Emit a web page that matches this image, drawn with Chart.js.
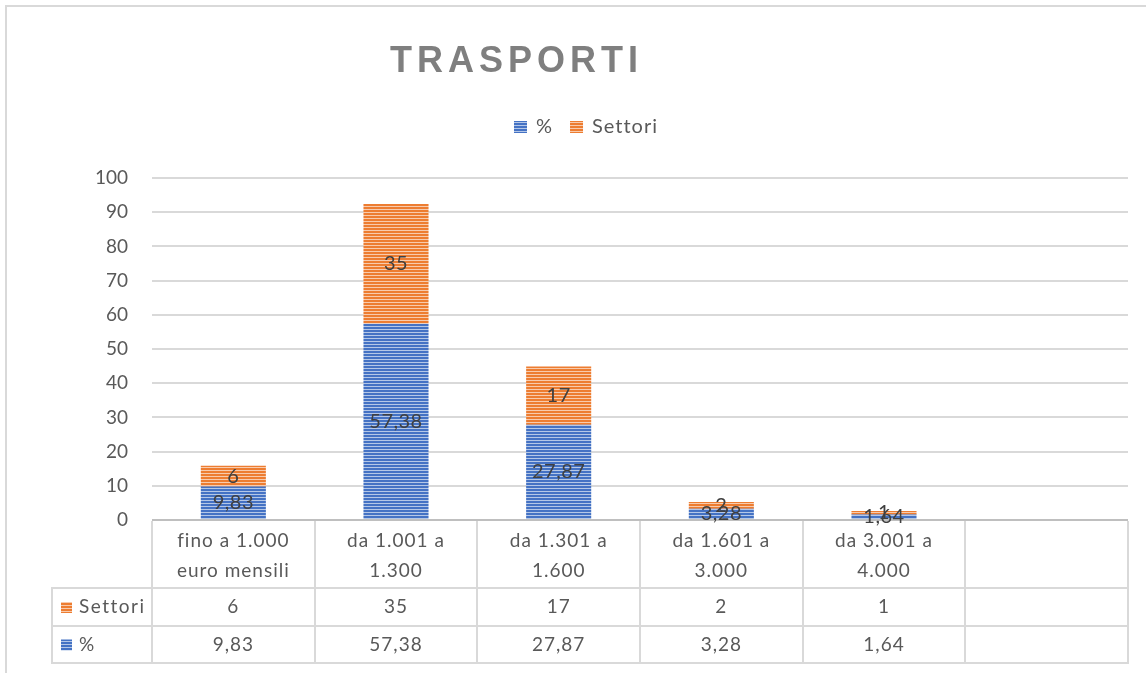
<!DOCTYPE html>
<html><head><meta charset="utf-8">
<script src="https://cdn.jsdelivr.net/npm/chart.js@4.4.1/dist/chart.umd.min.js"></script>
<style>html,body{margin:0;padding:0;background:#fff;overflow:hidden}</style>
</head><body>
<canvas id="c" width="1146" height="673"></canvas>
<script>
const chartTitle = 'TRASPORTI';
const categories = [['fino a 1.000','euro mensili'],['da 1.001 a','1.300'],['da 1.301 a','1.600'],['da 1.601 a','3.000'],['da 3.001 a','4.000'],['']];
const percentValues = [9.83, 57.38, 27.87, 3.28, 1.64, null];
const settoriValues = [6, 35, 17, 2, 1, null];
const seriesNames = ['%', 'Settori'];
const yMin = 0, yMax = 100, yStep = 10;

const FONT = 'Lato, "Liberation Sans", sans-serif';
const TEXT = '#595959';
const LABEL = '#404040';
const GRID = '#d9d9d9';

function stripes(base, light) {
  const p = document.createElement('canvas');
  p.width = 4; p.height = 3;
  const c = p.getContext('2d');
  c.fillStyle = base; c.fillRect(0, 0, 4, 2);
  c.fillStyle = light; c.fillRect(0, 2, 4, 1);
  return c.createPattern(p, 'repeat');
}
const ctx0 = document.getElementById('c').getContext('2d');
const bluePat = stripes('#4472c4', '#b4c7e7');
const orangePat = stripes('#ed7d31', '#f8cbad');

function fmt(v) { return v == null ? '' : String(v).replace('.', ','); }

function text(ctx, s, x, y, size, color, align, weight, spacing) {
  ctx.save();
  ctx.font = (weight || 'normal') + ' ' + size + 'px ' + FONT;
  ctx.fillStyle = color;
  ctx.textAlign = align || 'center';
  ctx.textBaseline = 'middle';
  if (spacing) ctx.letterSpacing = spacing + 'px';
  ctx.fillText(s, x, y);
  ctx.restore();
}
function line(ctx, x1, y1, x2, y2) { ctx.beginPath(); ctx.moveTo(x1, y1); ctx.lineTo(x2, y2); ctx.stroke(); }

const extras = {
  id: 'extras',
  afterDatasetsDraw(chart) {
    const ctx = chart.ctx;
    chart.data.datasets.forEach((ds, di) => {
      const meta = chart.getDatasetMeta(di);
      meta.data.forEach((el, i) => {
        const v = ds.data[i];
        if (v == null) return;
        text(ctx, fmt(v), el.x, (el.y + el.base) / 2, 20, LABEL, 'center', 'normal', 0.5);
      });
    });
  },
  afterDraw(chart) {
    const ctx = chart.ctx;
    // outer border
    ctx.save();
    ctx.strokeStyle = GRID; ctx.lineWidth = 2;
    ctx.strokeRect(6, 6, 1200, 800);
    ctx.restore();
    // title
    ctx.save();
    ctx.font = 'bold 36px "Liberation Sans", Arial, sans-serif';
    ctx.letterSpacing = '5px';
    ctx.fillStyle = '#7f7f7f';
    ctx.textAlign = 'left'; ctx.textBaseline = 'alphabetic';
    ctx.fillText(chartTitle, 390, 72);
    ctx.restore();
    // legend
    ctx.save();
    ctx.font = '20px ' + FONT;
    ctx.letterSpacing = '1px';
    const pats = [bluePat, orangePat];
    const boxW = 13, gapTxt = 9, gapItem = 17;
    const widths = seriesNames.map(s => ctx.measureText(s).width);
    let total = 0;
    widths.forEach((w, i) => { total += boxW + gapTxt + w + (i ? gapItem : 0); });
    let lx = 586 - total / 2;
    const ly = 127;
    seriesNames.forEach((s, i) => {
      ctx.fillStyle = pats[i];
      ctx.fillRect(lx, ly - 6, boxW, 12);
      text(ctx, s, lx + boxW + gapTxt, ly, 20, TEXT, 'left', 'normal', 1);
      lx += boxW + gapTxt + widths[i] + gapItem;
    });
    ctx.restore();
    // data table
    const xs = chart.scales.x, ys = chart.scales.y;
    const n = categories.length;
    const step = (xs.right - xs.left) / n;
    const top = ys.bottom;
    const y1 = top + 68, y2 = y1 + 38, y3 = y2 + 37;
    const legendLeft = 52;
    ctx.save();
    ctx.strokeStyle = GRID; ctx.lineWidth = 2;
    line(ctx, legendLeft, y1, xs.right, y1);
    line(ctx, legendLeft, y2, xs.right, y2);
    line(ctx, legendLeft, y3, xs.right, y3);
    for (let i = 0; i <= n; i++) {
      const x = Math.round(xs.left + i * step);
      line(ctx, x, top + 1, x, y3 + 1);
    }
    line(ctx, legendLeft, y1 - 1, legendLeft, y3 + 1);
    ctx.restore();
    categories.forEach((lab, i) => {
      const cx = xs.getPixelForValue(i);
      lab.forEach((l, k) => text(ctx, l, cx, top + 21 + k * 30, 19, TEXT, 'center', 'normal', 1));
    });
    const rows = [[settoriValues, orangePat, seriesNames[1]], [percentValues, bluePat, seriesNames[0]]];
    rows.forEach((r, ri) => {
      const cy = ri === 0 ? (y1 + y2) / 2 : (y2 + y3) / 2;
      ctx.save();
      ctx.fillStyle = r[1];
      ctx.fillRect(61, cy - 5, 11, 11);
      ctx.restore();
      text(ctx, r[2], 79, cy, 19, TEXT, 'left', 'normal', 1.5);
      r[0].forEach((v, i) => text(ctx, fmt(v), xs.getPixelForValue(i), cy, 19, TEXT, 'center', 'normal', 1));
    });
  }
};

new Chart(ctx0, {
  type: 'bar',
  data: {
    labels: categories,
    datasets: [
      { label: seriesNames[0], data: percentValues, backgroundColor: bluePat, borderWidth: 0 },
      { label: seriesNames[1], data: settoriValues, backgroundColor: orangePat, borderWidth: 0 }
    ]
  },
  options: {
    responsive: false,
    animation: false,
    layout: { padding: { top: 178, right: 18, bottom: 153, left: 0 } },
    datasets: { bar: { categoryPercentage: 1, barPercentage: 0.4 } },
    plugins: { legend: { display: false }, title: { display: false }, tooltip: { enabled: false } },
    scales: {
      x: { stacked: true, display: false },
      y: {
        stacked: true, min: yMin, max: yMax,
        ticks: { stepSize: yStep, padding: 24, color: TEXT, font: { family: FONT, size: 19 } },
        grid: { drawTicks: false, lineWidth: 2, color: c => c.tick && c.tick.value === 0 ? '#bfbfbf' : GRID },
        border: { display: false },
        afterFit(scale) { scale.width = 152; }
      }
    }
  },
  plugins: [extras]
});
</script>
</body></html>
